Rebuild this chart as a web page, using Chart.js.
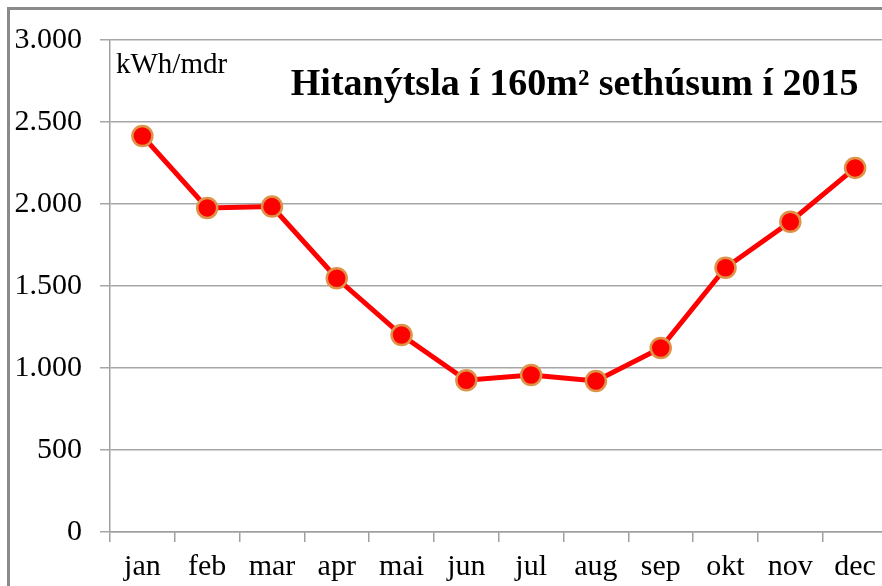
<!DOCTYPE html>
<html>
<head>
<meta charset="utf-8">
<script src="https://cdn.jsdelivr.net/npm/chart.js@4/dist/chart.umd.min.js"></script>
<style>
  html, body { margin: 0; padding: 0; background: #fff; overflow: hidden; }
  #frame {
    position: absolute; left: 7px; top: 7px; width: 1000px; height: 800px;
    border: 3px solid #8a8a8a; box-sizing: border-box;
  }
  #wrap { position: absolute; left: 0; top: 0; width: 900px; height: 586px; }
</style>
</head>
<body>
<div id="frame"></div>
<div id="wrap"><canvas id="chart" width="900" height="586"></canvas></div>
<script>
// Heat use per month (kWh/mdr)
const months = ['jan', 'feb', 'mar', 'apr', 'mai', 'jun', 'jul', 'aug', 'sep', 'okt', 'nov', 'dec'];
const heatUse = [2415, 1976, 1984, 1547, 1201, 925, 957, 921, 1122, 1611, 1892, 2220];
const yTicks = [0, 500, 1000, 1500, 2000, 2500, 3000];

const titleText = 'Hitanýtsla í 160m² sethúsum í 2015';
const unitText = 'kWh/mdr';

const serif = '"Liberation Serif", "Times New Roman", serif';

// format 3000 -> 3.000
const fmt = v => String(v).replace(/\B(?=(\d{3})+(?!\d))/g, '.');

// draws the title and unit label inside the plot
const labelsPlugin = {
    id: 'insideLabels',
    afterDraw(chart) {
        const ctx = chart.ctx;
        const area = chart.chartArea;
        ctx.save();
        ctx.fillStyle = '#000';
        ctx.textBaseline = 'alphabetic';

        ctx.font = '29px ' + serif;
        ctx.textAlign = 'left';
        ctx.fillText(unitText, area.left + 6, area.top + 33);

        ctx.font = 'bold 38px ' + serif;
        ctx.textAlign = 'right';
        ctx.fillText(titleText, area.right - 29, area.top + 55);
        ctx.restore();
    }
};

const ctx = document.getElementById('chart').getContext('2d');
new Chart(ctx, {
    type: 'line',
    data: {
        labels: months,
        datasets: [{
            data: heatUse,
            borderColor: '#ff0000',
            borderWidth: 5,
            backgroundColor: '#ff0000',
            pointBackgroundColor: '#ff0000',
            pointBorderColor: '#de9448',
            pointBorderWidth: 2.5,
            pointRadius: 10,
            tension: 0,
            clip: false
        }]
    },
    options: {
        responsive: false,
        animation: false,
        layout: { padding: { top: 40, right: 10, bottom: 0, left: 0 } },
        plugins: {
            legend: { display: false },
            tooltip: { enabled: false }
        },
        scales: {
            x: {
                offset: true,
                afterFit: scale => { scale.height = 54; },
                grid: {
                    offset: true,
                    drawOnChartArea: false,
                    drawTicks: true,
                    tickLength: 10,
                    color: '#a0a0a0',
                    lineWidth: 1.5
                },
                border: { color: '#a0a0a0', width: 1.5 },
                ticks: {
                    color: '#000',
                    padding: 13,
                    font: { family: serif, size: 30, lineHeight: 0.8 }
                }
            },
            y: {
                min: 0,
                max: 3000,
                afterBuildTicks: scale => {
                    scale.ticks = yTicks.map(v => ({ value: v }));
                },
                afterFit: scale => { scale.width = 110; },
                grid: {
                    color: '#a6a6a6',
                    lineWidth: 1.5,
                    tickLength: 10
                },
                border: { color: '#a0a0a0', width: 1.5 },
                ticks: {
                    color: '#000',
                    padding: 18,
                    font: { family: serif, size: 30 },
                    callback: v => fmt(v)
                }
            }
        }
    },
    plugins: [labelsPlugin]
});
</script>
</body>
</html>
